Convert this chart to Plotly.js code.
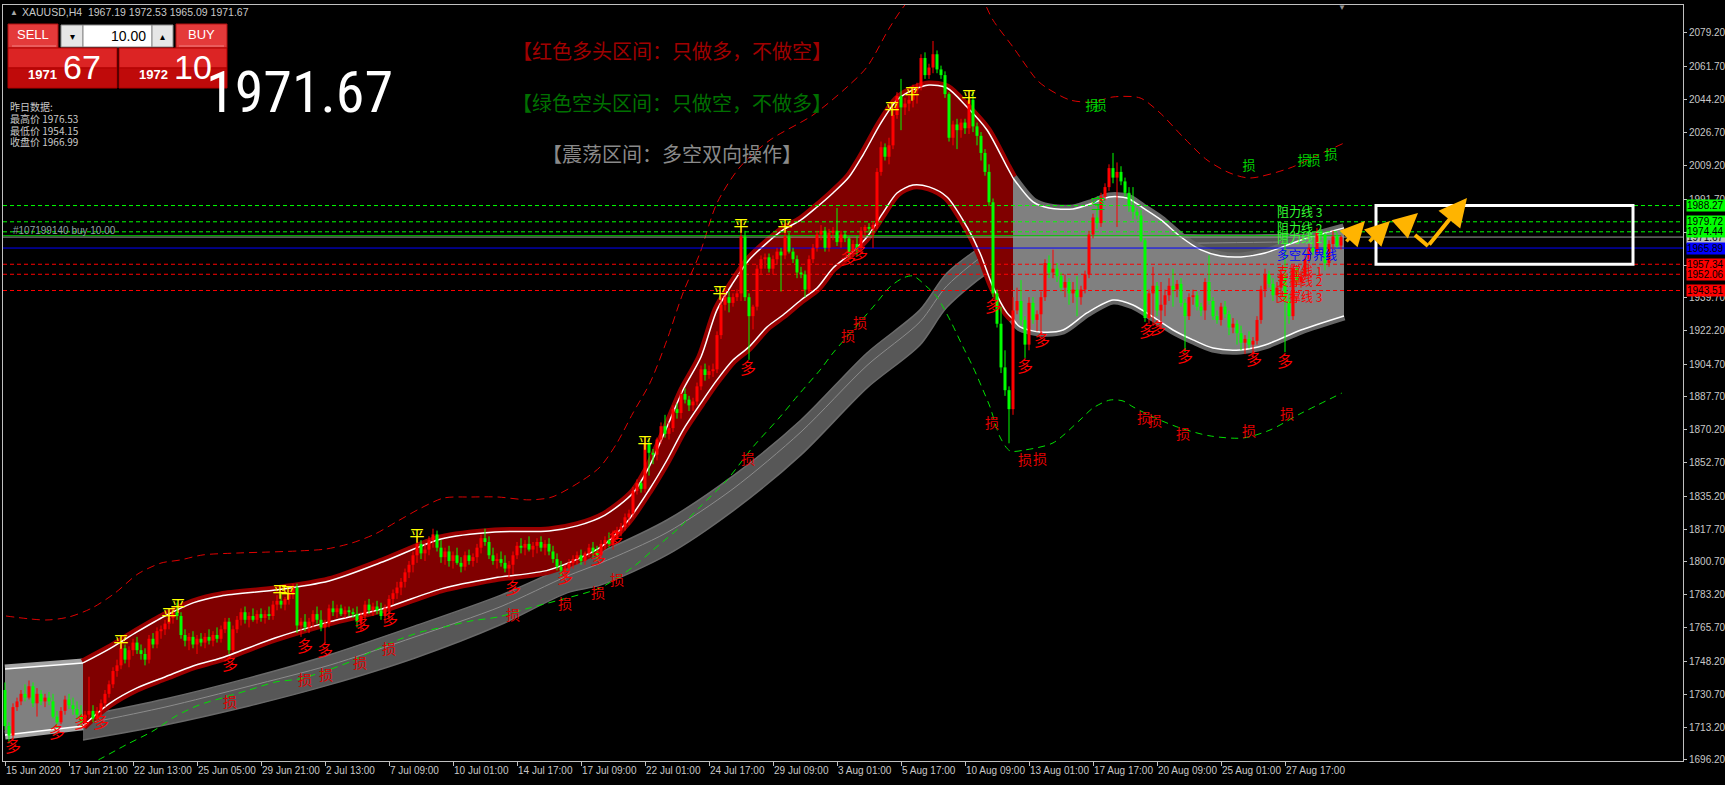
<!DOCTYPE html>
<html><head><meta charset="utf-8">
<script src="https://cdn.plot.ly/plotly-3.0.1.min.js"></script>
<style>html,body{margin:0;padding:0;background:#000;}#chart{width:1725px;height:785px;}</style>
</head><body><div id="chart"></div>
<script>
// ---------------- DATA ----------------
const tickBars = [0,16,32,48,64,80,96,112,128,144,160,176,192,208,224,240,256,272,288,304,320];
const tickLabels = ['15 Jun 2020','17 Jun 21:00','22 Jun 13:00','25 Jun 05:00','29 Jun 21:00','2 Jul 13:00','7 Jul 09:00','10 Jul 01:00','14 Jul 17:00','17 Jul 09:00','22 Jul 01:00','24 Jul 17:00','29 Jul 09:00','3 Aug 01:00','5 Aug 17:00','10 Aug 09:00','13 Aug 01:00','17 Aug 17:00','20 Aug 09:00','25 Aug 01:00','27 Aug 17:00'];
const priceTicks = [2079.2,2061.7,2044.2,2026.7,2009.2,1991.7,1974.2,1956.7,1939.7,1922.2,1904.7,1887.7,1870.2,1852.7,1835.2,1817.7,1800.7,1783.2,1765.7,1748.2,1730.7,1713.2,1696.2];

const open = [
1733,1714,1709,1724,1727,
1731,1729,1735,1726,1731,1727,
1729,1727,1719,1716,1722,1728,
1725,1723,1720,1716,1720,1722,
1718,1722,1726,1731,1736,1743,
1746,1755,1749,1754,1758,1754,
1752,1749,1760,1757,1764,1765,
1768,1771,1774,1772,1762,1759,
1761,1757,1760,1758,1761,1759,
1762,1760,1765,1769,1754,1765,
1770,1774,1770,1772,1770,1773,
1771,1773,1772,1778,1780,1778,
1781,1784,1787,1767,1769,1766,
1769,1773,1770,1766,1768,1776,
1774,1776,1773,1775,1774,
1773,1769,1772,1778,1775,1777,
1775,1772,1776,1781,1784,1787,
1790,1795,1799,1804,1810,1805,
1807,1812,1815,1808,1803,1806,
1801,1804,1800,1798,1804,1801,
1803,1808,1813,1811,1804,1801,
1802,1800,1797,1799,1804,1809,
1808,1810,1807,1809,1811,1808,
1810,1806,1802,1798,1796,1797,
1800,1802,1804,1801,1805,1808,
1806,1804,1810,1812,1810,1815,
1817,1819,1824,1826,1838,1842,
1839,1863,1858,1857,1865,1872,
1868,1871,1881,1879,1889,1886,
1883,1885,1893,1902,1899,1901,
1902,1920,1936,1940,1937,1940,
1942,1972,1940,1930,1935,1955,
1960,1961,1955,1960,1964,1962,
1972,1964,1960,1953,1952,1944,
1960,1966,1973,1975,1966,1974,
1975,1969,1973,1971,1964,1968,
1966,1975,1977,1976,1978,2006,
2019,2014,2020,2036,2046,2040,
2042,2044,2049,2051,2066,2057,
2061,2068,2060,2057,2047,2024,
2031,2028,2032,2029,2044,2030,
2025,2016,2006,1990,1942,1926,
1903,1891,1881,1933,1938,1928,
1915,1937,1928,1931,1940,1958,
1953,1955,1951,1945,1948,1942,
1944,1940,1944,1952,1973,1982,
1979,1993,1998,2008,2003,2006,
2001,1995,1988,1985,1983,1970,
1929,1942,1946,1933,1936,1941,
1946,1944,1947,1937,1930,1940,
1941,1935,1933,1948,1938,1930,
1928,1935,1931,1924,1926,1921,
1916,1918,1915,1917,1928,1944,
1952,1947,1941,1945,1952,1938,
1930,1955,1948,1951,1960,1966,
1964,1974,1973,1958,1968,1972,
1967.19];
const high = [
1737,1716,1726,1729,1733,
1736,1738,1737,1734,1733,1731,
1732,1731,1722,1724,1730,1731,
1729,1727,1725,1722,1740,1725,
1724,1728,1733,1738,1745,1749,
1757,1757,1756,1760,1761,1757,
1755,1762,1763,1766,1767,1770,
1774,1776,1779,1774,1765,1763,
1764,1762,1763,1763,1765,1764,
1766,1767,1771,1771,1767,1772,
1776,1777,1774,1776,1775,1776,
1775,1777,1780,1783,1784,1782,
1786,1789,1789,1771,1773,1771,
1775,1777,1775,1770,1778,1780,
1778,1778,1777,1777,1776,
1777,1774,1780,1781,1779,1780,
1779,1778,1783,1786,1790,1792,
1797,1801,1806,1814,1812,1810,
1814,1818,1817,1812,1808,1809,
1806,1808,1803,1806,1807,1805,
1810,1815,1818,1814,1808,1805,
1806,1804,1801,1806,1811,1813,
1812,1814,1811,1813,1814,1812,
1813,1809,1805,1801,1799,1802,
1804,1806,1807,1806,1810,1811,
1809,1812,1814,1816,1817,1819,
1821,1826,1828,1840,1844,1843,
1866,1865,1860,1866,1874,1878,
1874,1883,1884,1891,1892,1888,
1887,1895,1904,1905,1904,1905,
1922,1940,1943,1943,1942,1944,
1981,1975,1942,1936,1957,1962,
1963,1963,1962,1966,1966,1976,
1974,1966,1962,1956,1954,1962,
1968,1975,1978,1977,1976,1977,
1987,1975,1975,1972,1970,1972,
1977,1978,1979,1980,2008,2022,
2021,2024,2040,2048,2055,2045,
2046,2052,2053,2068,2069,2063,
2075,2070,2062,2059,2048,2033,
2034,2034,2034,2048,2049,2032,
2027,2018,2010,1992,1944,1935,
1912,1893,1940,1945,1949,1930,
1940,1940,1933,1943,1960,1962,
1965,1958,1953,1952,1950,1948,
1951,1946,1954,1975,1984,1986,
1995,2000,2010,2016,2011,2009,
2003,1998,1998,1987,1986,1971,
1944,1956,1948,1948,1944,1950,
1955,1949,1950,1939,1942,1944,
1943,1937,1950,1962,1940,1933,
1937,1938,1933,1929,1928,1925,
1920,1922,1919,1930,1946,1955,
1954,1950,1948,1955,1974,1942,
1957,1956,1954,1962,1968,1972,
1976.53,1976,1974,1970,1975,1974,
1972.53];
const low = [
1712,1705,1707,1722,1725,
1727,1728,1724,1719,1725,1724,
1725,1718,1713,1715,1720,1723,
1720,1718,1714,1713,1718,1716,
1716,1720,1724,1729,1734,1740,
1744,1747,1745,1751,1752,1749,
1746,1747,1755,1755,1760,1762,
1765,1768,1770,1760,1756,1754,
1755,1752,1756,1755,1757,1756,
1758,1758,1763,1752,1753,1763,
1767,1768,1766,1769,1768,1769,
1768,1770,1770,1775,1776,1775,
1778,1781,1763,1761,1764,1763,
1766,1768,1764,1758,1766,1772,
1771,1772,1771,1772,1771,
1766,1764,1770,1773,1772,1773,
1770,1768,1770,1778,1781,1783,
1787,1792,1795,1800,1802,1801,
1804,1808,1806,1800,1799,1798,
1797,1799,1795,1796,1799,1798,
1800,1805,1809,1802,1799,1797,
1798,1795,1792,1794,1802,1805,
1804,1806,1803,1805,1806,1804,
1804,1800,1796,1793,1792,1795,
1797,1799,1799,1799,1803,1803,
1801,1803,1807,1808,1807,1812,
1814,1817,1820,1824,1836,1837,
1837,1846,1852,1854,1863,1866,
1865,1869,1876,1876,1884,1880,
1880,1883,1891,1896,1897,1898,
1900,1918,1933,1932,1935,1938,
1938,1938,1907,1923,1933,1952,
1955,1953,1952,1957,1943,1960,
1963,1958,1950,1950,1940,1942,
1958,1964,1970,1964,1964,1970,
1967,1966,1969,1960,1961,1962,
1963,1972,1974,1966,1976,2004,
2012,2010,2018,2034,2028,2036,
2038,2040,2042,2049,2055,2055,
2058,2058,2055,2045,2022,2020,
2018,2024,2026,2026,2027,2020,
2012,2004,1988,1940,1924,1900,
1888,1863,1878,1931,1925,1908,
1912,1926,1922,1920,1938,1950,
1950,1948,1943,1940,1936,1937,
1930,1936,1942,1950,1971,1976,
1977,1991,1996,2000,1977,1999,
1993,1985,1981,1981,1969,1927,
1926,1925,1930,1923,1930,1938,
1935,1940,1935,1911,1928,1936,
1933,1930,1928,1936,1928,1926,
1925,1929,1920,1921,1915,1912,
1910,1913,1909,1915,1926,1940,
1945,1938,1937,1940,1911,1926,
1928,1946,1945,1949,1958,1962,
1962,1970,1954.15,1956,1965,1966,
1965.09];
const close = [
1714,1709,1724,1727,1731,
1729,1735,1726,1731,1727,1729,
1727,1719,1716,1722,1728,1725,
1723,1720,1716,1720,1722,1718,
1722,1726,1731,1736,1743,1746,
1755,1749,1754,1758,1754,1752,
1749,1760,1757,1764,1765,1768,
1771,1774,1772,1762,1759,1761,
1757,1760,1758,1761,1759,1762,
1760,1765,1769,1754,1765,1770,
1774,1770,1772,1770,1773,1771,
1773,1772,1778,1780,1778,1781,
1784,1787,1767,1769,1766,1769,
1773,1770,1766,1768,1776,1774,
1776,1773,1775,1774,1773,
1769,1772,1778,1775,1777,1775,
1772,1776,1781,1784,1787,1790,
1795,1799,1804,1810,1805,1807,
1812,1815,1808,1803,1806,1801,
1804,1800,1798,1804,1801,1803,
1808,1813,1811,1804,1801,1802,
1800,1797,1799,1804,1809,1808,
1810,1807,1809,1811,1808,1810,
1806,1802,1798,1796,1797,1800,
1802,1804,1801,1805,1808,1806,
1804,1810,1812,1810,1815,1817,
1819,1824,1826,1838,1842,1839,
1863,1858,1857,1865,1872,1868,
1871,1881,1879,1889,1886,1883,
1885,1893,1902,1899,1901,1902,
1920,1936,1940,1937,1940,1942,
1972,1940,1930,1935,1955,1960,
1961,1955,1960,1964,1962,1972,
1964,1960,1953,1952,1944,1960,
1966,1973,1975,1966,1974,1975,
1969,1973,1971,1964,1968,1966,
1975,1977,1976,1978,2006,2019,
2014,2020,2036,2046,2040,2042,
2044,2049,2051,2066,2057,2061,
2068,2060,2057,2047,2024,2031,
2028,2032,2029,2044,2030,2025,
2016,2006,1990,1942,1926,1903,
1891,1881,1933,1938,1928,1915,
1937,1928,1931,1940,1958,1953,
1955,1951,1945,1948,1942,1944,
1940,1944,1952,1973,1982,1979,
1993,1998,2008,2003,2006,2001,
1995,1988,1985,1983,1970,1929,
1942,1946,1933,1936,1941,1946,
1944,1947,1937,1930,1940,1941,
1935,1933,1948,1938,1930,1928,
1935,1931,1924,1926,1921,1916,
1918,1915,1917,1928,1944,1952,
1947,1941,1945,1952,1938,1930,
1955,1948,1951,1960,1966,1964,
1974,1973,1958,1968,1972,1966.99,
1971.67];

// channel (white lines)
const bandUBar = [0,19.5,26,33,40,47,54,67.5,81,95,109,122.5,136,143,150,157,161,165.5,169.5,174,178,182,186,190.5,194.5,199,203,207,211,214.5,219,223,227,231,235.5,240.5,245.5,250.5,252,257,261,267,272,276,280.5,284.5,289,294,299,304,309,315,324,334.75];
const bandU = [1744.1,1747.3,1754.6,1763.6,1772.0,1778.9,1782.6,1785.7,1790.5,1801.0,1812.6,1816.3,1816.8,1819.5,1825.2,1836.8,1850.5,1871.6,1891.1,1908.5,1933.3,1947.5,1959.6,1968.6,1975.4,1980.7,1987.5,1994.9,2003.3,2014.9,2031.8,2043.9,2049.2,2051.8,2050.2,2040.2,2028.1,2008.6,2002.8,1990.2,1987.0,1986.5,1989.6,1992.8,1992.3,1987.0,1980.7,1971.7,1964.9,1961.7,1961.2,1963.3,1970.1,1976.5];
const bandLBar = [0,19.5,26,33,40,47,54,67.5,81,95,109,122.5,136,149,155.5,161,165.5,169.5,174,178,182,186,190.5,194.5,199,203,207,211,215.5,219.5,223,227,231,235.5,240.5,243.75,247,250.5,252,253.75,258.75,264.5,270.5,277,282,287,292,297,302,308.75,315,324,334.75];
const bandL = [1709.3,1714.1,1725.7,1734.1,1739.9,1745.7,1749.9,1760.4,1768.9,1776.2,1786.3,1792.1,1796.3,1808.4,1821.6,1838.4,1854.2,1870.0,1884.3,1896.4,1906.9,1913.8,1924.3,1930.6,1938.5,1944.8,1955.4,1962.2,1971.7,1984.4,1994.9,1999.1,1998.1,1992.8,1977.0,1963.3,1945.4,1931.7,1928.5,1924.3,1921.7,1922.7,1931.7,1938.5,1935.9,1929.6,1922.7,1917.5,1913.2,1912.2,1914.8,1922.7,1930.1];
const zoneFrom = [0, 19.5, 252];
const zoneTo = [19.5, 252, 334.75];
const zoneFill = ['#808080', '#800000', '#808080'];
const zoneRim = ['#a4a4a4', '#9a0000', '#676767'];

// grey moving-average ribbon
const ribBar = [19.5,40,61,81,102.5,124,140.5,149,165.5,182,199,215.5,228.75,235.5,247,252,273.75,298.75,334.75];
const ribUp = [1719.3,1728.3,1739.4,1751.5,1766.8,1783.0,1798.4,1805.8,1822.6,1845.8,1875.3,1910.6,1933.3,1952.7,1970.1,1972.2,1973.8,1972.8,1973.3];
const ribLo = [1706.7,1714.6,1724.6,1735.7,1749.9,1767.5,1784.2,1788.4,1804.2,1827.4,1856.9,1892.2,1914.8,1934.8,1954.3,1956.4,1958.5,1961.2,1962.8];
const ribMid = [1715,1724,1735,1746,1761,1777,1793,1800,1816,1839,1869,1904,1927,1946,1965,1967,1968,1968.5,1969.5];

// dashed envelopes
const euBar = [0.25,10.25,16,21.75,27.5,33.25,39,43.75,49.5,58.25,65.75,73.5,80.25,86.75,92.5,98.25,104,109.75,116.5,123.25,131,136.75,144.5,148.75,153,157,161.25,165.5,169.5,173.75,178,183.75,191.25,202,210.5,215.5,221.25,225,231.25,237.5,242.5,247,252,258,260.5,266.25,272,277,283.75,288.75,294.5,300.5,306.25,311.25,321.25,328.75,334.75];
const euVal = [1772.0,1769.9,1771.5,1776.2,1784.1,1794.2,1799.9,1801.5,1804.2,1805.2,1805.7,1806.3,1807.3,1810.5,1815.2,1822.1,1828.9,1834.2,1834.7,1834.7,1833.2,1834.7,1843.7,1850.5,1863.2,1879.0,1894.8,1917.5,1942.2,1963.3,1989.6,2008.6,2022.8,2036.0,2050.7,2061.3,2082.4,2094.0,2107.1,2112.4,2104.5,2086.0,2071.8,2054.4,2050.2,2043.9,2042.8,2045.5,2045.0,2037.1,2024.4,2012.3,2005.4,2002.8,2008.1,2015.4,2021.2];
const elBar = [18,24.25,30.25,37,42.75,48.5,54.25,61,67.75,73.5,80.25,86.75,92.5,98.25,104,109.75,116.5,123.25,131,138.75,148.75,157,162,168.75,173.75,180.5,187,193.75,198.75,203.75,207,212,217,221.25,224.5,227,230.5,233,236.25,239.5,242,244.5,246.25,248.75,251.25,255,262,268.75,272,276.25,279.5,282,287.5,293.75,301.25,309.5,316.25,323.75,334.25];
const elVal = [1690.5,1697.2,1704.1,1711.4,1719.3,1725.1,1728.8,1733.0,1737.3,1738.8,1743.1,1748.3,1754.1,1759.4,1763.6,1766.2,1769.4,1771.5,1776.2,1780.5,1786.8,1797.8,1806.8,1818.9,1829.5,1843.7,1861.1,1876.9,1889.5,1901.6,1910.6,1922.7,1934.8,1945.4,1950.1,1951.2,1945.4,1940.1,1928.0,1913.8,1903.2,1891.1,1882.2,1866.3,1859.0,1859.5,1863.2,1875.3,1881.6,1885.8,1885.3,1882.2,1876.4,1871.1,1866.9,1865.8,1870.0,1878.5,1889.5];

// signal glyphs
const duoBar = [2,13,19.25,24,56.25,75,80,89.25,96.25,127,140,148.25,152.5,185.75,210.75,213.75,247,255,259.25,285.5,288.25,295,312.25,320];
const duoPrice = [1702.5,1709.9,1715.2,1715.2,1745.7,1755.2,1753.1,1766.2,1769.4,1785.7,1791.5,1801.5,1812.1,1901.6,1959.6,1962.2,1934.3,1902.7,1916.4,1921.1,1922.7,1908.0,1906.4,1905.3];
const sunBar = [56.25,75,80.25,88.75,96,127,140,148.25,153,185.75,210.75,213.75,246.75,255,258.75,284.75,287.5,294.5,311,320.5];
const sunPrice = [1725.7,1737.3,1739.9,1746.7,1753.6,1771.5,1777.3,1783.1,1790.0,1854.2,1918.5,1925.4,1872.7,1853.2,1854.2,1875.3,1874.2,1866.9,1868.5,1877.4];
const sunGBar = [271.75,273.75,311,324.75,327.25,331.5];
const sunGPrice = [2040.2,2040.2,2008.6,2011.2,2011.2,2014.4];
const pingBar = [29,41,43.25,68.75,70.75,103,160,178.75,184,195,221.75,226.75,241];
const pingPrice = [1757.8,1772.0,1776.8,1784.1,1783.6,1813.6,1862.7,1941.7,1977.0,1977.0,2038.6,2046.5,2045.0];
const kongBar = [273.25];
const kongPrice = [1988.3];

// horizontal levels
const levelNames = ['阻力线 3','阻力线 2','阻力线 1','多空分界线','支撑线 1','支撑线 2','支撑线 3'];
const levelPrices = [1988.27,1979.72,1974.44,1965.89,1957.34,1952.06,1943.51];
const levelColors = ['#00ff00','#00ff00','#00ff00','#0000ff','#ff0000','#ff0000','#ff0000'];
const levelDash = ['4px,3px','4px,3px','4px,3px','solid','4px,3px','4px,3px','4px,3px'];
const levelLabelBar = 317.5;
const bidPrice = 1971.67;
const orderPrice = 1972.4;
const orderText = '#107199140 buy 10.00';

// projection box and arrows
const boxBars = [342.75, 407];
const boxPrices = [1957.34, 1988.27];
const arrowTailBar = [335, 340.75, 348.75];
const arrowTailPrice = [1968.6, 1968.6, 1975.9];
const arrowHeadBar = [340, 346.25, 353.25];
const arrowHeadPrice = [1980.2, 1980.2, 1984.4];
const checkBar = [352.5, 355.75, 365.5];
const checkPrice = [1972.8, 1967.0, 1992.3];

// header info
const symbolInfo = 'XAUUSD,H4  1967.19 1972.53 1965.09 1971.67';
const yesterday = ['昨日数据:', '最高价 1976.53', '最低价 1954.15', '收盘价 1966.99'];
const bidText = ['1971', '67'];
const askText = ['1972', '10'];
const lotText = '10.00';
const bigPrice = '1971.67';
const banners = ['【红色多头区间：只做多，不做空】', '【绿色空头区间：只做空，不做多】', '【震荡区间：多空双向操作】'];
const bannerColors = ['#a00000', '#007000', '#8a8a8a'];

// ---------------- LAYOUT HELPERS ----------------
const W = 1725, H = 785, ML = 3, MR = 42, MT = 5, MB = 24;
const PW = W - ML - MR, PH = H - MT - MB;
const X_MIN = -0.5, X_MAX = 419.5, Y_MIN = 1695.6, Y_MAX = 2093.95;
const px = x => (x - ML) / PW;
const py = y => 1 - (y - MT) / PH;
const UI = "'Liberation Sans', Arial, sans-serif";
const CJK = "'Noto Sans CJK SC', sans-serif";

function seg(bars, vals, a, b) {
  const x = [], y = [];
  bars.forEach((v, i) => { if (v >= a - 1e-9 && v <= b + 1e-9) { x.push(v); y.push(vals[i]); } });
  return {x, y};
}
const sp = {shape: 'spline', smoothing: 0.8};
const traces = [];

// ribbon
traces.push({type:'scatter', mode:'lines', x:ribBar, y:ribLo, line:Object.assign({color:'#6a6a6a', width:1.5}, sp), hoverinfo:'skip'});
traces.push({type:'scatter', mode:'lines', x:ribBar, y:ribUp, fill:'tonexty', fillcolor:'#575757', line:Object.assign({color:'#6a6a6a', width:1.5}, sp), hoverinfo:'skip'});
traces.push({type:'scatter', mode:'lines', x:ribBar, y:ribMid, line:Object.assign({color:'#8c8c8c', width:1}, sp), hoverinfo:'skip'});

for (let z = 0; z < zoneFrom.length; z++) {
  const u = seg(bandUBar, bandU, zoneFrom[z], zoneTo[z]);
  const l = seg(bandLBar, bandL, zoneFrom[z], zoneTo[z]);
  traces.push({type:'scatter', mode:'lines', x:u.x, y:u.y, line:Object.assign({color:zoneRim[z], width:9}, sp), hoverinfo:'skip'});
  traces.push({type:'scatter', mode:'lines', x:l.x, y:l.y, line:Object.assign({color:zoneRim[z], width:9}, sp), hoverinfo:'skip'});
}
for (let z = 0; z < zoneFrom.length; z++) {
  const u = seg(bandUBar, bandU, zoneFrom[z], zoneTo[z]);
  const l = seg(bandLBar, bandL, zoneFrom[z], zoneTo[z]);
  traces.push({type:'scatter', mode:'lines', x:l.x, y:l.y, line:Object.assign({color:'rgba(0,0,0,0)', width:0}, sp), hoverinfo:'skip'});
  traces.push({type:'scatter', mode:'lines', x:u.x, y:u.y, fill:'tonexty', fillcolor:zoneFill[z], line:Object.assign({color:'rgba(0,0,0,0)', width:0}, sp), hoverinfo:'skip'});
}
for (let z = 0; z < zoneFrom.length; z++) {
  const u = seg(bandUBar, bandU, zoneFrom[z], zoneTo[z]);
  const l = seg(bandLBar, bandL, zoneFrom[z], zoneTo[z]);
  traces.push({type:'scatter', mode:'lines', x:u.x, y:u.y, line:Object.assign({color:'#ffffff', width:1.5}, sp), hoverinfo:'skip'});
  traces.push({type:'scatter', mode:'lines', x:l.x, y:l.y, line:Object.assign({color:'#ffffff', width:1.5}, sp), hoverinfo:'skip'});
}
traces.push({type:'scatter', mode:'lines', x:euBar, y:euVal, line:Object.assign({color:'#e00000', width:1, dash:'8px,5px'}, sp), hoverinfo:'skip'});
traces.push({type:'scatter', mode:'lines', x:elBar, y:elVal, line:Object.assign({color:'#00e000', width:1, dash:'7px,5px'}, sp), hoverinfo:'skip'});

levelPrices.forEach((p, i) => {
  traces.push({type:'scatter', mode:'lines', x:[X_MIN, X_MAX], y:[p, p], line:{color:levelColors[i], width:1, dash:levelDash[i]}, hoverinfo:'skip'});
});
traces.push({type:'scatter', mode:'lines', x:[X_MIN, X_MAX], y:[bidPrice, bidPrice], line:{color:'#9a9a9a', width:1}, hoverinfo:'skip'});
traces.push({type:'scatter', mode:'lines', x:[X_MIN, open.length - 1], y:[orderPrice, orderPrice], line:{color:'#00c800', width:1}, hoverinfo:'skip'});

// candles drawn as scatter segments (wicks + bodies) so they sit above the filled channel
const wick = {up:{x:[], y:[]}, dn:{x:[], y:[]}};
const body = {up:{x:[], y:[]}, dn:{x:[], y:[]}};
for (let i = 0; i < open.length; i++) {
  const k = close[i] >= open[i] ? 'up' : 'dn';
  wick[k].x.push(i, i, null); wick[k].y.push(low[i], high[i], null);
  const b0 = Math.min(open[i], close[i]), b1 = Math.max(open[i], close[i]);
  body[k].x.push(i, i, null); body[k].y.push(b0, b1 === b0 ? b0 + 0.4 : b1, null);
}
const cCol = {up:'#ff0000', dn:'#00ff00'};
['up', 'dn'].forEach(k => {
  traces.push({type:'scatter', mode:'lines', x:wick[k].x, y:wick[k].y, line:{color:cCol[k], width:1}, connectgaps:false, hoverinfo:'skip'});
  traces.push({type:'scatter', mode:'lines', x:body[k].x, y:body[k].y, line:{color:cCol[k], width:3}, connectgaps:false, hoverinfo:'skip'});
});

traces.push({type:'scatter', mode:'lines', x:checkBar.slice(0, 2), y:checkPrice.slice(0, 2), line:{color:'#ffb400', width:4}, hoverinfo:'skip'});

function glyphs(xs, ys, ch, color, size) {
  traces.push({type:'scatter', mode:'text', x:xs, y:ys, text:xs.map(() => ch), textposition:'middle center',
    textfont:{family:CJK, size:size, color:color}, hoverinfo:'skip', cliponaxis:true});
}
glyphs(sunBar, sunPrice, '损', '#e00000', 14);
glyphs(duoBar, duoPrice, '多', '#ff0000', 16);
glyphs(sunGBar, sunGPrice, '损', '#00d000', 13);
glyphs(pingBar, pingPrice, '平', '#ffff00', 15);
glyphs(kongBar, kongPrice, '空', '#00d000', 15);

// ---------------- ANNOTATIONS & SHAPES ----------------
const ann = [];
const shapes = [];
function txt(x, y, text, size, color, anchor, fam, extra) {
  ann.push(Object.assign({xref:'paper', yref:'paper', x:px(x), y:py(y), text:text, showarrow:false,
    xanchor:anchor || 'left', yanchor:'middle', font:{family:fam || UI, size:size, color:color}}, extra || {}));
}
function rect(x0, y0, x1, y1, fill, line) {
  shapes.push({type:'rect', xref:'paper', yref:'paper', x0:px(x0), x1:px(x1), y0:py(y1), y1:py(y0),
    fillcolor:fill, line:{color:line || fill, width:1}, layer:'above'});
}

levelNames.forEach((n, i) => {
  ann.push({xref:'x', yref:'y', x:levelLabelBar, y:levelPrices[i], text:n, showarrow:false, xanchor:'left', yanchor:'middle',
    yshift:-6, font:{family:CJK, size:12, color:levelColors[i] === '#00ff00' ? '#33ff33' : levelColors[i]}});
});
ann.push({xref:'paper', yref:'y', x:px(11), y:orderPrice, text:orderText, showarrow:false, xanchor:'left', yanchor:'bottom',
  yshift:-2, font:{family:UI, size:10, color:'#8fa3a3'}});

const boxList = [[bidPrice, '#c0c0c0']].concat(levelPrices.map((p, i) => [p, levelColors[i]]));
boxList.forEach(b => {
  ann.push({xref:'paper', yref:'y', x:px(1686), y:b[0], text:b[0].toFixed(2), showarrow:false, xanchor:'left', yanchor:'middle',
    bgcolor:b[1], borderpad:0, width:38, height:11, align:'left', font:{family:UI, size:10, color:'#000000'}});
});

shapes.push({type:'rect', xref:'x', yref:'y', x0:boxBars[0], x1:boxBars[1], y0:boxPrices[0], y1:boxPrices[1],
  line:{color:'#ffffff', width:3}, layer:'above'});
for (let i = 0; i < arrowTailBar.length; i++) {
  ann.push({xref:'x', yref:'y', axref:'x', ayref:'y', x:arrowHeadBar[i], y:arrowHeadPrice[i], ax:arrowTailBar[i], ay:arrowTailPrice[i],
    text:'', showarrow:true, arrowhead:2, arrowsize:1.4, arrowwidth:3.5, arrowcolor:'#ffb400'});
}
ann.push({xref:'x', yref:'y', axref:'x', ayref:'y', x:checkBar[2], y:checkPrice[2], ax:checkBar[1], ay:checkPrice[1],
  text:'', showarrow:true, arrowhead:2, arrowsize:1.4, arrowwidth:4, arrowcolor:'#ffb400'});

txt(672, 51, banners[0], 20, bannerColors[0], 'center', CJK);
txt(672, 102, banners[1], 20, bannerColors[1], 'center', CJK);
txt(672, 153, banners[2], 20, bannerColors[2], 'center', CJK);

txt(8, 12, '▲', 8, '#a8a8a8', 'left');
txt(20, 12, symbolInfo, 10.5, '#c8c8c8', 'left');
txt(1342, 7, '▼', 8, '#909090', 'center');

txt(204, 92, bigPrice, 58, '#ffffff', 'left', "'Liberation Sans Narrow','Roboto Condensed','DejaVu Sans Condensed','Liberation Sans',sans-serif");

rect(8, 24, 58, 48, '#e43a3a', '#b01010');
rect(176, 24, 227, 48, '#e43a3a', '#b01010');
rect(61, 25, 83, 47, '#e6e6e6', '#8a8a8a');
rect(83, 25, 152, 47, '#ffffff', '#8a8a8a');
rect(152, 25, 173, 47, '#e6e6e6', '#8a8a8a');
rect(8, 48, 117, 68, '#dc2424', '#b00000');
rect(8, 68, 117, 88, '#bf0a0a', '#b00000');
rect(119, 48, 227, 68, '#dc2424', '#b00000');
rect(119, 68, 227, 88, '#bf0a0a', '#b00000');
shapes.push({type:'line', xref:'paper', yref:'paper', x0:px(12), x1:px(56), y0:py(46), y1:py(46), line:{color:'#f08080', width:1}, layer:'above'});
shapes.push({type:'line', xref:'paper', yref:'paper', x0:px(179), x1:px(224), y0:py(46), y1:py(46), line:{color:'#f08080', width:1}, layer:'above'});
txt(33, 35, 'SELL', 13, '#ffffff', 'center');
txt(201, 35, 'BUY', 13, '#ffffff', 'center');
txt(72, 36, '▾', 10, '#000000', 'center');
txt(162, 36, '▴', 10, '#000000', 'center');
txt(148, 36, lotText, 14, '#000000', 'right');
txt(59, 74, '<b>' + bidText[0] + '</b>', 13, '#ffffff', 'right');
txt(61, 67, bidText[1], 34, '#ffffff', 'left');
txt(170, 74, '<b>' + askText[0] + '</b>', 13, '#ffffff', 'right');
txt(172, 67, askText[1], 34, '#ffffff', 'left');

yesterday.forEach((t, i) => txt(8, [107, 118, 130, 141][i], t, 10, '#c8c8c8', 'left', CJK));

// ---------------- PLOT ----------------
const axisFont = {family:UI, size:10, color:'#c8c8c8'};
const layout = {
  width:W, height:H, margin:{l:ML, r:MR, t:MT, b:MB, pad:0},
  paper_bgcolor:'#000000', plot_bgcolor:'#000000', showlegend:false, hovermode:false,
  xaxis:{range:[X_MIN, X_MAX], tickvals:tickBars, ticktext:tickLabels, ticks:'outside', ticklen:4, tickcolor:'#c0c0c0',
    tickangle:0, ticklabelposition:'outside right', tickfont:axisFont, showline:true, linecolor:'#c0c0c0', linewidth:1, mirror:true,
    showgrid:false, zeroline:false, fixedrange:true},
  yaxis:{range:[Y_MIN, Y_MAX], side:'right', tickvals:priceTicks, ticktext:priceTicks.map(v => v.toFixed(2)), ticks:'outside',
    ticklen:3, tickcolor:'#c0c0c0', tickfont:axisFont, showline:true, linecolor:'#c0c0c0', linewidth:1, mirror:true,
    showgrid:false, zeroline:false, fixedrange:true},
  annotations:ann, shapes:shapes
};
Plotly.newPlot('chart', traces, layout, {staticPlot:true, displayModeBar:false});
</script></body></html>
